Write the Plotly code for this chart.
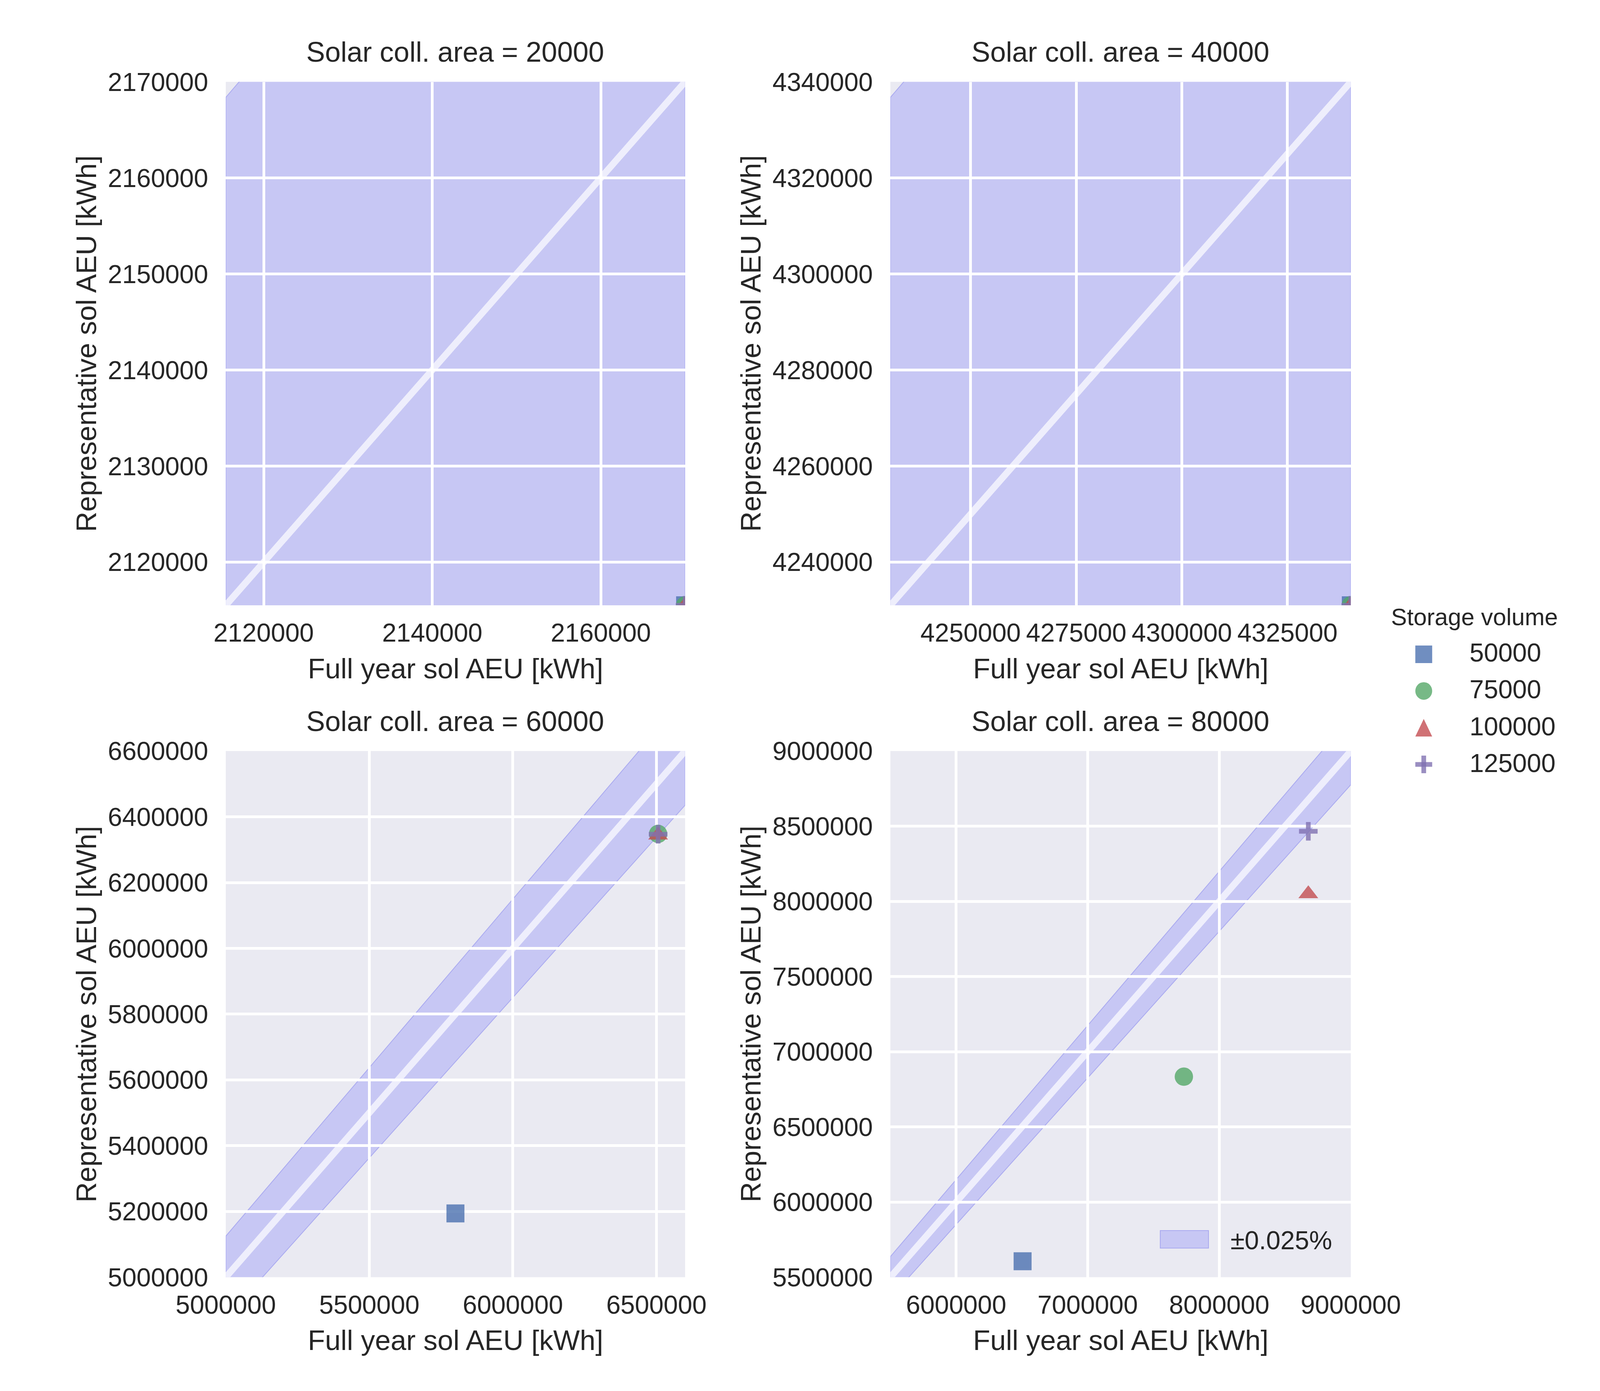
import plotly.graph_objects as go

# one panel per collector area, one marker series per storage volume
coll_areas = [20000, 40000, 60000, 80000]
storage_volumes = [50000, 75000, 100000, 125000]

# full year simulation result (x) and representative-days result (y), kWh
full_year_20000 = [2170000, 2170000, 2170000, 2170000]
repr_20000 = [2115500, 2115500, 2115500, 2115500]
full_year_40000 = [4340000, 4340000, 4340000, 4340000]
repr_40000 = [4231000, 4231000, 4231000, 4231000]
full_year_60000 = [5800000, 6506000, 6506000, 6506000]
repr_60000 = [5194000, 6348000, 6344000, 6347000]
full_year_80000 = [6505000, 7731000, 8677000, 8677000]
repr_80000 = [5606000, 6834000, 8050000, 8466000]

full_year = [full_year_20000, full_year_40000, full_year_60000, full_year_80000]
representative = [repr_20000, repr_40000, repr_60000, repr_80000]

tolerance = 0.025

# axis limits and ticks per panel
axis_ranges = [
    [2115500, 2170000],
    [4231000, 4340000],
    [5000000, 6600000],
    [5500000, 9000000],
]
x_ticks = [
    [2120000, 2140000, 2160000],
    [4250000, 4275000, 4300000, 4325000],
    [5000000, 5500000, 6000000, 6500000],
    [6000000, 7000000, 8000000, 9000000],
]
y_ticks = [
    [2120000, 2130000, 2140000, 2150000, 2160000, 2170000],
    [4240000, 4260000, 4280000, 4300000, 4320000, 4340000],
    [5000000, 5200000, 5400000, 5600000, 5800000, 6000000, 6200000, 6400000, 6600000],
    [5500000, 6000000, 6500000, 7000000, 7500000, 8000000, 8500000, 9000000],
]

W, H = 4158, 3562
FONT = "Liberation Sans, Arial, sans-serif"
TXT = "#262626"
BAND_FILL = "rgba(0,0,255,0.15)"
BAND_EDGE = "rgba(40,40,230,0.25)"

colors = ["#4C72B0", "#55A868", "#C44E52", "#8172B2"]
symbols = ["square", "circle", "triangle-up", "cross-thin"]
sizes = [46, 47, 44, 34]

# panel boxes in pixels (left, right, top, bottom)
cols = [(471, 1724), (2284, 3540)]
rows = [(168, 1537), (1918, 3294)]


def px(x):
    return x / W


def py(y):
    return 1 - y / H


fig = go.Figure()
annotations = []
shapes = []

for i, area in enumerate(coll_areas):
    r, c = divmod(i, 2)
    left, right = cols[c]
    top, bottom = rows[r]
    xa = "x" if i == 0 else f"x{i+1}"
    ya = "y" if i == 0 else f"y{i+1}"
    lo, hi = axis_ranges[i]

    # tolerance band, drawn under the grid like the reference
    band_path = (f"M {lo},{lo * (1 - tolerance)} L {hi},{hi * (1 - tolerance)} "
                 f"L {hi},{hi * (1 + tolerance)} L {lo},{lo * (1 + tolerance)} Z")
    shapes.append(dict(type="path", path=band_path, xref=xa, yref=ya, layer="below",
                       fillcolor=BAND_FILL, line=dict(color=BAND_EDGE, width=2)))

    # 1:1 line
    fig.add_trace(go.Scatter(
        x=[lo, hi], y=[lo, hi], mode="lines",
        line=dict(color="rgba(255,255,255,0.7)", width=17),
        xaxis=xa, yaxis=ya, showlegend=False, hoverinfo="skip",
    ))

    for j, vol in enumerate(storage_volumes):
        if symbols[j] == "cross-thin":
            marker = dict(symbol="cross-thin", size=sizes[j],
                          line=dict(color=colors[j], width=12))
        else:
            marker = dict(symbol=symbols[j], size=sizes[j], color=colors[j],
                          line=dict(width=0))
        fig.add_trace(go.Scatter(
            x=[full_year[i][j]], y=[representative[i][j]], mode="markers",
            marker=marker, opacity=0.8, name=str(vol),
            xaxis=xa, yaxis=ya, showlegend=False,
        ))

    axis_common = dict(
        showgrid=True, gridcolor="white", gridwidth=7, zeroline=False,
        showline=False, ticks="", tickformat="d",
        tickfont=dict(family=FONT, size=66, color=TXT),
        range=[lo, hi],
    )
    fig.layout[f"xaxis{'' if i == 0 else i+1}"] = dict(
        axis_common, domain=[px(left), px(right)], anchor=ya,
        tickvals=x_ticks[i], ticklabelstandoff=26,
    )
    fig.layout[f"yaxis{'' if i == 0 else i+1}"] = dict(
        axis_common, domain=[py(bottom), py(top)], anchor=xa,
        tickvals=y_ticks[i], ticklabelstandoff=44,
    )

    # panel title and axis labels
    annotations.append(dict(
        text=f"Solar coll. area = {area}", x=px((left + right) / 2), y=py(top - 78),
        xref="paper", yref="paper", xanchor="center", yanchor="middle",
        showarrow=False, font=dict(family=FONT, size=72, color=TXT),
    ))
    annotations.append(dict(
        text="Full year sol AEU [kWh]", x=px((left + right) / 2), y=py(bottom + 165),
        xref="paper", yref="paper", xanchor="center", yanchor="middle",
        showarrow=False, font=dict(family=FONT, size=72, color=TXT),
    ))
    annotations.append(dict(
        text="Representative sol AEU [kWh]", x=px(left - 381), y=py((top + bottom) / 2),
        xref="paper", yref="paper", xanchor="center", yanchor="middle", textangle=-90,
        showarrow=False, font=dict(family=FONT, size=72, color=TXT),
    ))

# storage volume legend, drawn with shapes so symbols keep their size
leg_x, leg_y0, leg_step, half = 3739, 1665, 96, 23
annotations.append(dict(
    text="Storage volume", x=px(3877), y=py(1568), xref="paper", yref="paper",
    xanchor="center", yanchor="middle", showarrow=False,
    font=dict(family=FONT, size=61, color=TXT),
))
for j, vol in enumerate(storage_volumes):
    cy = leg_y0 + j * leg_step
    style = dict(xref="paper", yref="paper", opacity=0.8, layer="above")
    if symbols[j] == "square":
        shapes.append(dict(type="rect", x0=px(leg_x - half), x1=px(leg_x + half),
                           y0=py(cy - half), y1=py(cy + half),
                           fillcolor=colors[j], line=dict(width=0), **style))
    elif symbols[j] == "circle":
        shapes.append(dict(type="circle", x0=px(leg_x - half), x1=px(leg_x + half),
                           y0=py(cy - half), y1=py(cy + half),
                           fillcolor=colors[j], line=dict(width=0), **style))
    elif symbols[j] == "triangle-up":
        path = (f"M {px(leg_x - half)},{py(cy + half)} L {px(leg_x + half)},{py(cy + half)} "
                f"L {px(leg_x)},{py(cy - half)} Z")
        shapes.append(dict(type="path", path=path, fillcolor=colors[j],
                           line=dict(width=0), **style))
    else:
        shapes.append(dict(type="line", x0=px(leg_x - half), x1=px(leg_x + half),
                           y0=py(cy), y1=py(cy), line=dict(color=colors[j], width=12), **style))
        shapes.append(dict(type="line", x0=px(leg_x), x1=px(leg_x),
                           y0=py(cy - half), y1=py(cy + half),
                           line=dict(color=colors[j], width=12), **style))
    annotations.append(dict(
        text=str(vol), x=px(3862), y=py(cy - 4), xref="paper", yref="paper",
        xanchor="left", yanchor="middle", showarrow=False,
        font=dict(family=FONT, size=66, color=TXT),
    ))

# tolerance legend inside last panel
shapes.append(dict(type="rect", xref="paper", yref="paper",
                   x0=px(3020), x1=px(3152), y0=py(3172), y1=py(3218),
                   fillcolor=BAND_FILL, line=dict(color=BAND_EDGE, width=2)))
annotations.append(dict(
    text="±0.025%", x=px(3210), y=py(3197), xref="paper", yref="paper",
    xanchor="left", yanchor="middle", showarrow=False,
    font=dict(family=FONT, size=66, color=TXT),
))

fig.update_layout(
    width=W, height=H, autosize=False,
    margin=dict(l=0, r=0, t=0, b=0),
    paper_bgcolor="white", plot_bgcolor="#EAEAF2",
    showlegend=False,
    annotations=annotations, shapes=shapes,
    font=dict(family=FONT, color=TXT),
)

fig.write_html("out.html")
